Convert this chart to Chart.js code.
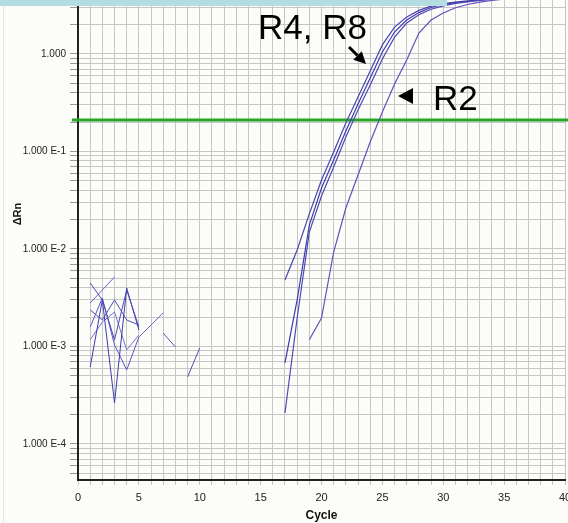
<!DOCTYPE html>
<html>
<head>
<meta charset="utf-8">
<script src="https://cdn.jsdelivr.net/npm/chart.js@4.4.1/dist/chart.umd.min.js"></script>
<style>
  html, body { margin: 0; padding: 0; background: #fcfcf8; }
  #wrap { position: relative; width: 568px; height: 523px; }
</style>
</head>
<body>
<div id="wrap"><canvas id="amp"></canvas></div>
<script>
const FONT = "'Liberation Sans', Arial, sans-serif";

// axes
const yMin = 4.27e-5, yMax = 3.58;
const threshold = 0.21;
const decadeValues = [1e-4, 1e-3, 1e-2, 1e-1, 1];
const decadeLabels = ['1.000 E-4', '1.000 E-3', '1.000 E-2', '1.000 E-1', '1.000'];

// amplification curves (delta Rn), first value at ampStart
const ampStart = 17;
const r4 = [4.81e-3, 9.77e-3, 2.29e-2, 5.10e-2, 9.88e-2, 0.196, 0.362, 0.670, 1.24, 1.89, 2.40, 2.80,
            3.10, 3.28, 3.40, 3.50, 3.60, 3.70, 3.78, 3.85, 3.92, 3.98, 4.04, 4.10];
const r8 = [6.78e-4, 3.00e-3, 1.76e-2, 4.22e-2, 8.18e-2, 0.162, 0.307, 0.567, 1.05, 1.68, 2.23, 2.66,
            3.00, 3.22, 3.36, 3.47, 3.57, 3.67, 3.76, 3.84, 3.91, 3.97, 4.03, 4.09];
const r8b = [2.08e-4, 1.96e-3, 1.49e-2, 3.50e-2, 6.93e-2, 0.141, 0.267, 0.481, 0.889, 1.49, 2.08, 2.53,
             2.88, 3.12, 3.30, 3.43, 3.54, 3.64, 3.74, 3.82, 3.90, 3.96, 4.02, 4.08];
const r2Start = 19;
const r2 = [1.17e-3, 1.96e-3, 9.31e-3, 2.63e-2, 5.74e-2, 0.125, 0.254, 0.492, 0.868, 1.64, 2.23,
            2.63, 2.98, 3.22, 3.40, 3.54, 3.66, 3.76, 3.84, 3.91, 3.97, 4.03];

// baseline noise, the rest of each run is below zero so it is not drawn
const noiseStarts = [1, 1, 1, 1, 1, 1, 5, 7, 9];
const noise = [
  [4.48e-3, 3.00e-3, 1.17e-3, 3.80e-3, 1.58e-3],
  [2.79e-3, 3.80e-3, 5.16e-3],
  [6.16e-4, 3.00e-3, 2.64e-4, 3.98e-3, 1.48e-3],
  [1.58e-3, 3.14e-3, 1.04e-3, 5.74e-4, 1.25e-3],
  [1.17e-3, 1.78e-3, 2.26e-3, 9.21e-4, 1.31e-3],
  [2.37e-3, 1.87e-3, 3.00e-3, 1.87e-3, 1.66e-3],
  [1.25e-3, 1.66e-3, 2.21e-3],
  [1.37e-3, 9.89e-4],
  [4.87e-4, 9.66e-4]
];
const noiseColors = ['#4a4ab4', '#6a62c8', '#3c3cac', '#5a56c0', '#7a72cc', '#4f4fb8', '#6a6ac4', '#5c5cb0', '#5050ac'];

const toPoints = (start, vals) => vals.map((v, i) => ({ x: start + i, y: v }));

const datasets = [];
noise.forEach((vals, i) => {
  datasets.push({ data: toPoints(noiseStarts[i], vals), borderColor: noiseColors[i], borderWidth: 1 });
});
datasets.push({ data: toPoints(ampStart, r8b), borderColor: '#5048b4', borderWidth: 1.2 });
datasets.push({ data: toPoints(ampStart, r8), borderColor: '#3c3cac', borderWidth: 1.2 });
datasets.push({ data: toPoints(ampStart, r4), borderColor: '#4a44b0', borderWidth: 1.2 });
datasets.push({ data: toPoints(r2Start, r2), borderColor: '#6a4cbc', borderWidth: 1.2 });

// every 1..9 x 10^k step inside the range gets a grid line
const yGrid = [];
for (let k = -5; k <= 0; k++) {
  for (let s = 1; s <= 9; s++) {
    const v = s * Math.pow(10, k);
    if (v >= yMin && v <= yMax) yGrid.push(v);
  }
}

const labelFor = (v) => {
  const i = decadeValues.findIndex(d => Math.abs(Math.log10(d) - Math.log10(v)) < 1e-6);
  return i < 0 ? '' : decadeLabels[i];
};

const arrow = (ctx, x1, y1, x2, y2, head, half) => {
  const dx = x2 - x1, dy = y2 - y1, len = Math.hypot(dx, dy);
  const ux = dx / len, uy = dy / len;
  const bx = x2 - ux * head, by = y2 - uy * head;
  ctx.beginPath();
  ctx.moveTo(x1, y1);
  ctx.lineTo(bx, by);
  ctx.stroke();
  ctx.beginPath();
  ctx.moveTo(x2, y2);
  ctx.lineTo(bx - uy * half, by + ux * half);
  ctx.lineTo(bx + uy * half, by - ux * half);
  ctx.closePath();
  ctx.fill();
};

const overlay = {
  id: 'overlay',
  beforeDatasetsDraw(chart) {
    const { ctx, chartArea, scales: { y } } = chart;
    const py = y.getPixelForValue(threshold);
    ctx.save();
    ctx.strokeStyle = '#24a824';
    ctx.lineWidth = 3;
    ctx.beginPath();
    ctx.moveTo(chartArea.left - 6, py);
    ctx.lineTo(chart.width, py);
    ctx.stroke();
    ctx.restore();
  },
  afterDraw(chart) {
    const { ctx } = chart;
    ctx.save();
    // strip of the window above the plot
    ctx.fillStyle = '#b4dde1';
    ctx.fillRect(0, 0, 447, 6);
    ctx.fillStyle = '#e9e6d6';
    ctx.fillRect(3, 6, 1, 517);

    // y axis title
    ctx.save();
    ctx.translate(18, 214);
    ctx.rotate(-Math.PI / 2);
    ctx.fillStyle = '#111';
    ctx.font = 'bold 11px ' + FONT;
    ctx.textAlign = 'center';
    ctx.textBaseline = 'middle';
    ctx.fillText('\u0394Rn', 0, 0);
    ctx.restore();

    // callouts
    ctx.fillStyle = '#000';
    ctx.strokeStyle = '#000';
    ctx.font = '35px ' + FONT;
    ctx.textBaseline = 'alphabetic';
    ctx.textAlign = 'left';
    ctx.fillText('R4, R8', 258, 39);
    ctx.fillText('R2', 433, 110);
    ctx.lineWidth = 3;
    arrow(ctx, 349, 47, 366, 64, 12, 6);
    arrow(ctx, 413, 96, 398, 96, 15, 8);
    ctx.restore();
  }
};

new Chart(document.getElementById('amp'), {
  type: 'line',
  data: { datasets },
  options: {
    animation: false,
    responsive: true,
    maintainAspectRatio: false,
    layout: { padding: { left: 0, right: 3, top: 0, bottom: 0 } },
    plugins: { legend: { display: false }, tooltip: { enabled: false } },
    elements: { point: { radius: 0 }, line: { tension: 0 } },
    scales: {
      x: {
        type: 'linear', min: 0, max: 40,
        ticks: {
          stepSize: 1, autoSkip: false, maxRotation: 0, padding: 6, color: '#222',
          font: { size: 11, family: FONT },
          callback: v => (v % 5 === 0 ? String(v) : '')
        },
        grid: { color: '#c6c6c6', tickLength: 5, tickColor: '#c6c6c6' },
        border: { color: '#222', width: 2 },
        title: { display: true, text: 'Cycle', color: '#111', font: { size: 12, weight: 'bold', family: FONT }, padding: { top: 0, bottom: 0 } },
        afterFit(s) { s.height = 43; s.paddingLeft = 0; s.paddingRight = 0; }
      },
      y: {
        type: 'logarithmic', min: yMin, max: yMax,
        afterBuildTicks(s) { s.ticks = yGrid.map(v => ({ value: v })); },
        ticks: { autoSkip: false, padding: 4, color: '#222', font: { size: 10, family: FONT }, callback: v => labelFor(v) },
        grid: { color: '#c6c6c6', tickLength: 8, tickColor: '#9a9a9a' },
        border: { color: '#222', width: 2 },
        afterFit(s) { s.width = 78; s.paddingTop = 0; s.paddingBottom = 0; }
      }
    }
  },
  plugins: [overlay]
});
</script>
</body>
</html>
